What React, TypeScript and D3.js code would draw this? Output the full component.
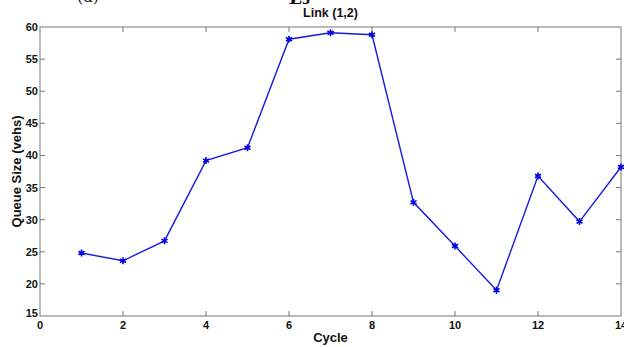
import React, { useEffect, useRef } from "react";
import * as d3 from "d3";

const cycles = [1, 2, 3, 4, 5, 6, 7, 8, 9, 10, 11, 12, 13, 14];
const queueSize = [24.8, 23.6, 26.7, 39.2, 41.2, 58.1, 59.1, 58.8, 32.7, 25.9, 19.0, 36.8, 29.7, 38.2];
const xTicks = [0, 2, 4, 6, 8, 10, 12, 14];
const yTicks = [15, 20, 25, 30, 35, 40, 45, 50, 55, 60];

const App: React.FC = () => {
    const svgRef = useRef<SVGSVGElement | null>(null);

    useEffect(() => {
        if (!svgRef.current) return;
        const svg = d3.select(svgRef.current);
        svg.selectAll("*").remove();

        const width = 624;
        const height = 347;
        const margin = { top: 27, right: 3, bottom: 31, left: 40 };
        const font = "Arial, 'Liberation Sans', sans-serif";

        const x = d3.scaleLinear().domain([0, 14]).range([margin.left, width - margin.right]);
        const y = d3.scaleLinear().domain([15, 60]).range([height - margin.bottom, margin.top]);

        // cut-off caption fragments at the very top
        svg.append("text")
            .attr("x", 88).attr("y", 2)
            .attr("text-anchor", "middle")
            .style("font-family", "'DejaVu Serif', serif")
            .attr("font-size", 16)
            .attr("fill", "#222")
            .text("(a)");
        svg.append("text")
            .attr("x", 300).attr("y", 4)
            .attr("text-anchor", "middle")
            .style("font-family", "'DejaVu Serif', serif")
            .attr("font-size", 18)
            .attr("font-style", "italic")
            .attr("font-weight", "bold")
            .attr("fill", "#111")
            .text("L₃");

        // title
        svg.append("text")
            .attr("x", (x(0) + x(14)) / 2)
            .attr("y", 17)
            .attr("text-anchor", "middle")
            .style("font-family", font)
            .attr("font-size", 12.5)
            .attr("font-weight", "bold")
            .attr("fill", "#111")
            .text("Link (1,2)");

        // box
        svg.append("rect")
            .attr("x", x(0)).attr("y", y(60))
            .attr("width", x(14) - x(0)).attr("height", y(15) - y(60))
            .attr("fill", "white")
            .attr("stroke", "#777")
            .attr("stroke-width", 1);

        const tick = 5;
        const ticks = svg.append("g").attr("stroke", "#777").attr("stroke-width", 1);
        xTicks.slice(1, -1).forEach((t) => {
            ticks.append("line").attr("x1", x(t)).attr("x2", x(t)).attr("y1", y(15)).attr("y2", y(15) - tick);
            ticks.append("line").attr("x1", x(t)).attr("x2", x(t)).attr("y1", y(60)).attr("y2", y(60) + tick);
        });
        yTicks.slice(1, -1).forEach((t) => {
            ticks.append("line").attr("x1", x(0)).attr("x2", x(0) + tick).attr("y1", y(t)).attr("y2", y(t));
            ticks.append("line").attr("x1", x(14)).attr("x2", x(14) - tick).attr("y1", y(t)).attr("y2", y(t));
        });

        // tick labels
        svg.append("g")
            .selectAll("text")
            .data(xTicks)
            .join("text")
            .attr("x", (d) => x(d))
            .attr("y", y(15) + 13)
            .attr("text-anchor", "middle")
            .style("font-family", font)
            .attr("font-size", 11)
            .attr("font-weight", "bold")
            .attr("fill", "#111")
            .text((d) => d);

        svg.append("g")
            .selectAll("text")
            .data(yTicks)
            .join("text")
            .attr("x", x(0) - 2)
            .attr("y", (d) => y(d) + (d === 15 ? 1 : 4))
            .attr("text-anchor", "end")
            .style("font-family", font)
            .attr("font-size", 11)
            .attr("font-weight", "bold")
            .attr("fill", "#111")
            .text((d) => d);

        // axis titles
        svg.append("text")
            .attr("x", (x(0) + x(14)) / 2)
            .attr("y", 342)
            .attr("text-anchor", "middle")
            .style("font-family", font)
            .attr("font-size", 13)
            .attr("font-weight", "bold")
            .attr("fill", "#111")
            .text("Cycle");

        svg.append("text")
            .attr("transform", `translate(21,${(y(15) + y(60)) / 2}) rotate(-90)`)
            .attr("text-anchor", "middle")
            .style("font-family", font)
            .attr("font-size", 13)
            .attr("font-weight", "bold")
            .attr("fill", "#111")
            .text("Queue Size (vehs)");

        const points = cycles.map((c, i) => [c, queueSize[i]] as [number, number]);

        const line = d3.line<[number, number]>()
            .x((d) => x(d[0]))
            .y((d) => y(d[1]));

        svg.append("path")
            .datum(points)
            .attr("d", line)
            .attr("fill", "none")
            .attr("stroke", "#1a1adf")
            .attr("stroke-width", 1.4);

        const star = d3.symbol().type(d3.symbolAsterisk).size(34);
        svg.append("g")
            .selectAll("path")
            .data(points)
            .join("path")
            .attr("transform", (d) => `translate(${x(d[0])},${y(d[1])})`)
            .attr("d", star)
            .attr("fill", "none")
            .attr("stroke", "#0000e0")
            .attr("stroke-width", 1.6);
    }, []);

    return (
        <svg
            ref={svgRef}
            width={624}
            height={347}
            style={{ position: "absolute", left: 0, top: 0, background: "white" }}
        ></svg>
    );
};

export default App;
